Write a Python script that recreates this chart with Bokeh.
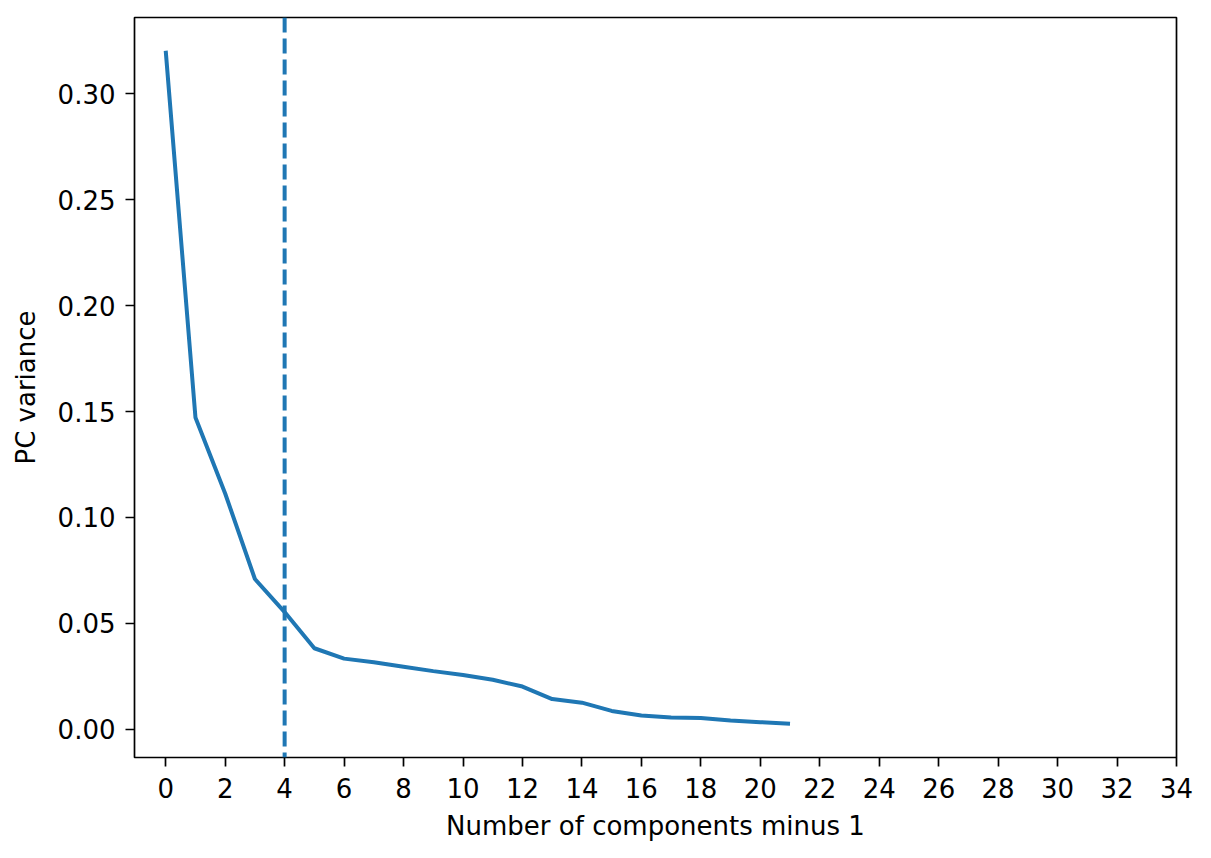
from bokeh.plotting import figure
from bokeh.models import Range1d, FixedTicker, PrintfTickFormatter, Span
from bokeh.embed import file_html
from bokeh.resources import INLINE

# Data
components = list(range(22))
pc_variance = [0.3204, 0.1472, 0.1113, 0.0709, 0.0553, 0.0382, 0.0333, 0.0316,
               0.0295, 0.0274, 0.0256, 0.0233, 0.0201, 0.0142, 0.0125, 0.0086,
               0.0064, 0.0055, 0.0052, 0.0041, 0.0033, 0.0025]
chosen_components = 4
x_ticks = list(range(0, 35, 2))
y_ticks = [0.0, 0.05, 0.10, 0.15, 0.20, 0.25, 0.30]

BLUE = "#1f77b4"
FONT = "DejaVu Sans"
FS = "26px"

p = figure(frame_width=1042, frame_height=740,
           x_range=Range1d(-1.05, 34), y_range=Range1d(-0.0134, 0.3361),
           output_backend="svg", toolbar_location=None,
           min_border_left=134, min_border_top=17, min_border_right=27, min_border_bottom=92,
           background_fill_color="white", border_fill_color="white")

p.line(components, pc_variance, line_color=BLUE, line_width=4)
p.add_layout(Span(location=chosen_components, dimension="height",
                  line_color=BLUE, line_width=4, line_dash="15 6"))

p.xgrid.visible = False
p.ygrid.visible = False
p.outline_line_color = "black"
p.outline_line_width = 1.7
p.outline_line_alpha = 1.0

p.xaxis.ticker = FixedTicker(ticks=x_ticks)
p.yaxis.ticker = FixedTicker(ticks=y_ticks)
p.yaxis.formatter = PrintfTickFormatter(format="%.2f")
p.xaxis.axis_label = "Number of components minus 1"
p.yaxis.axis_label = "PC variance"

for ax in (p.xaxis, p.yaxis):
    ax.axis_line_color = None
    ax.major_tick_line_color = "black"
    ax.major_tick_line_width = 1.7
    ax.major_tick_out = 9
    ax.major_tick_in = 0
    ax.minor_tick_line_color = None
    ax.major_label_text_font = FONT
    ax.major_label_text_font_size = FS
    ax.major_label_text_color = "black"
    ax.axis_label_text_font = FONT
    ax.axis_label_text_font_size = FS
    ax.axis_label_text_font_style = "normal"
    ax.axis_label_text_color = "black"

p.xaxis.major_label_standoff = 11
p.yaxis.major_label_standoff = 10
p.xaxis.axis_label_standoff = 10
p.yaxis.axis_label_standoff = 14

open("out.html", "w").write(file_html(p, INLINE))
